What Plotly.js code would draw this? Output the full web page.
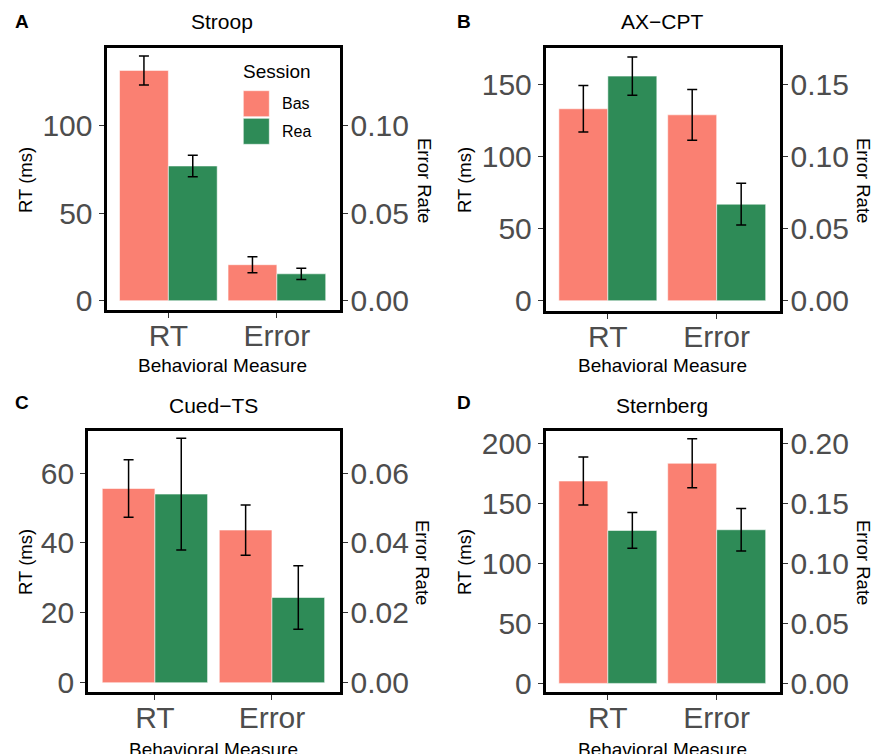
<!DOCTYPE html>
<html>
<head>
<meta charset="utf-8">
<script src="https://cdn.plot.ly/plotly-3.0.1.min.js"></script>
<style>html,body{margin:0;padding:0;background:#fff;}#chart{width:876px;height:754px;}</style>
</head>
<body>
<div id="chart"></div>
<script>
// ---------------- DATA ----------------
const categories = ['RT', 'Error'];
const sessions = ['Bas', 'Rea'];
const tasks = ['Stroop', 'AX\u2212CPT', 'Cued\u2212TS', 'Sternberg'];
const panelLetters = ['A', 'B', 'C', 'D'];
// RT difference (ms): Bas / Rea, mean and standard error
const rtBas   = [131.8, 133.4, 55.6, 168.6];
const rtBasSE = [8.3, 16.2, 8.2, 20.0];
const rtRea   = [77.1, 156.1, 54.0, 127.4];
const rtReaSE = [6.1, 13.3, 16.0, 14.9];
// Error rate: Bas / Rea, mean and standard error
const errBas   = [0.0206, 0.1292, 0.0437, 0.1834];
const errBasSE = [0.0046, 0.0176, 0.0072, 0.0205];
const errRea   = [0.0154, 0.0671, 0.0244, 0.1280];
const errReaSE = [0.0032, 0.0145, 0.0091, 0.0177];
// tick labels
const rtTicks  = [[0, 50, 100], [0, 50, 100, 150], [0, 20, 40, 60], [0, 50, 100, 150, 200]];
const errTicks = [[0, 0.05, 0.10], [0, 0.05, 0.10, 0.15], [0, 0.02, 0.04, 0.06], [0, 0.05, 0.10, 0.15, 0.20]];
const errScale = 1000; // secondary axis: 0.10 error rate aligns with 100 ms

// ---------------- STYLE / LAYOUT ----------------
const W = 876, H = 754;
const FONT = 'Liberation Sans, Arial, Helvetica, sans-serif';
const BAS_COL = '#FA8072';
const REA_COL = '#2E8B57';
const X = p => p / W;
const Y = p => 1 - p / H;

// panel geometry in pixels: plot area (inside frame) and y range
const panels = [
  {x0: 106.5, x1: 339.5, y0: 48.2, y1: 309.8, yr: [-5.2, 144.5], cx: 222.5, titleY: 22, xtY: 365.5, rtX: 25, erX: 425, midY: 180},
  {x0: 545.8, x1: 779.5, y0: 48.2, y1: 310.8, yr: [-7.0, 175.5], cx: 662, titleY: 22, xtY: 365.5, rtX: 464, erX: 864, midY: 180},
  {x0: 88.2,  x1: 339.5, y0: 430.5, y1: 691.8, yr: [-2.6, 72.2], cx: 213, titleY: 405, xtY: 749.5, rtX: 25, erX: 423, midY: 562},
  {x0: 545.8, x1: 779.5, y0: 430.5, y1: 691.8, yr: [-7.0, 210.7], cx: 662, titleY: 405, xtY: 749.5, rtX: 464, erX: 864, midY: 562}
];
const letterX = [22, 464, 22, 464];
const letterY = [21, 21, 403, 403];

const traces = [];
const layout = {
  width: W, height: H,
  margin: {l: 0, r: 0, t: 0, b: 0},
  paper_bgcolor: '#ffffff', plot_bgcolor: '#ffffff',
  barmode: 'overlay',
  showlegend: false,
  font: {family: FONT, color: '#000000'},
  annotations: [],
  shapes: []
};

function barTrace(cat, val, se, color, offset, xa, ya) {
  return {
    type: 'bar', x: [cat], y: [val],
    xaxis: xa, yaxis: ya,
    width: 0.45, offset: offset,
    marker: {color: color, line: {color: 'rgba(255,255,255,0.55)', width: 1}},
    error_y: {type: 'data', array: [se], visible: true, color: '#000000', thickness: 1.5, width: 5},
    hoverinfo: 'y', showlegend: false
  };
}

panels.forEach((p, i) => {
  const n = i + 1, n2 = i + 5;
  const xa = 'x' + n, ya = 'y' + n, ya2 = 'y' + n2;
  traces.push(barTrace(categories[0], rtBas[i], rtBasSE[i], BAS_COL, -0.45, xa, ya));
  traces.push(barTrace(categories[0], rtRea[i], rtReaSE[i], REA_COL, 0, xa, ya));
  traces.push(barTrace(categories[1], errBas[i], errBasSE[i], BAS_COL, -0.45, xa, ya2));
  traces.push(barTrace(categories[1], errRea[i], errReaSE[i], REA_COL, 0, xa, ya2));

  const common = {
    showline: true, linecolor: '#000000', linewidth: 3,
    ticks: 'outside', ticklen: 5, tickwidth: 1, tickcolor: '#333333',
    tickfont: {family: FONT, size: 30, color: '#4d4d4d'},
    showgrid: false, zeroline: false, fixedrange: true, automargin: false
  };
  layout['xaxis' + (n === 1 ? '' : n)] = Object.assign({}, common, {
    domain: [X(p.x0), X(p.x1)], anchor: ya,
    type: 'category', categoryorder: 'array', categoryarray: categories,
    range: [-0.57, 1.577], mirror: true, ticklabelstandoff: -8
  });
  layout['yaxis' + (n === 1 ? '' : n)] = Object.assign({}, common, {
    domain: [Y(p.y1), Y(p.y0)], anchor: xa,
    range: p.yr, tickmode: 'array', tickvals: rtTicks[i], mirror: true
  });
  layout['yaxis' + n2] = Object.assign({}, common, {
    domain: [Y(p.y1), Y(p.y0)], anchor: xa, overlaying: ya, side: 'right',
    range: p.yr.map(v => v / errScale), tickmode: 'array', tickvals: errTicks[i], tickformat: '.2f',
    ticklabelstandoff: -3
  });

  const A = layout.annotations;
  A.push({text: tasks[i], x: X(p.cx), y: Y(p.titleY), xref: 'paper', yref: 'paper', xanchor: 'center', yanchor: 'middle', showarrow: false, font: {size: 21, color: '#000'}});
  A.push({text: '<b>' + panelLetters[i] + '</b>', x: X(letterX[i]), y: Y(letterY[i]), xref: 'paper', yref: 'paper', xanchor: 'center', yanchor: 'middle', showarrow: false, font: {size: 19, color: '#000'}});
  A.push({text: 'Behavioral Measure', x: X(p.cx), y: Y(p.xtY), xref: 'paper', yref: 'paper', xanchor: 'center', yanchor: 'middle', showarrow: false, font: {size: 19, color: '#000'}});
  A.push({text: 'RT (ms)', x: X(p.rtX), y: Y(p.midY), xref: 'paper', yref: 'paper', xanchor: 'center', yanchor: 'middle', textangle: -90, showarrow: false, font: {size: 18.5, color: '#000'}});
  A.push({text: 'Error Rate', x: X(p.erX), y: Y(p.midY), xref: 'paper', yref: 'paper', xanchor: 'center', yanchor: 'middle', textangle: 90, showarrow: false, font: {size: 18.5, color: '#000'}});
});

// legend (panel A)
const legend = {titleX: 277, titleY: 72, boxX0: 243.3, boxX1: 269.3, rows: [[90.7, 116.7], [118.3, 144.3]], labelX: 280};
const legendColors = [BAS_COL, REA_COL];
layout.annotations.push({text: 'Session', x: X(legend.titleX), y: Y(legend.titleY), xref: 'paper', yref: 'paper', xanchor: 'center', yanchor: 'middle', showarrow: false, font: {size: 19, color: '#000'}});
sessions.forEach((s, k) => {
  const r = legend.rows[k];
  layout.shapes.push({type: 'rect', xref: 'paper', yref: 'paper', x0: X(legend.boxX0), x1: X(legend.boxX1), y0: Y(r[1]), y1: Y(r[0]), fillcolor: legendColors[k], line: {color: 'rgba(255,255,255,0.55)', width: 1}});
  layout.annotations.push({text: s, x: X(legend.labelX), y: Y((r[0] + r[1]) / 2), xref: 'paper', yref: 'paper', xanchor: 'left', yanchor: 'middle', showarrow: false, font: {size: 16, color: '#000'}});
});

Plotly.newPlot('chart', traces, layout, {displayModeBar: false, staticPlot: true});
</script>
</body>
</html>
